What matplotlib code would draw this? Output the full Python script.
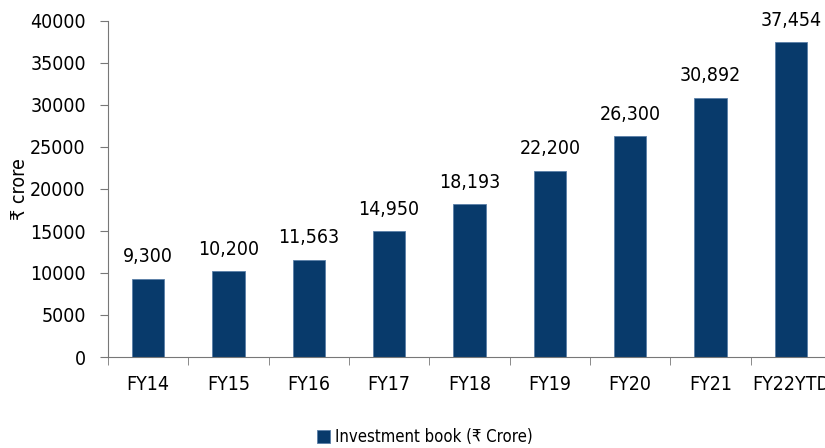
import matplotlib.pyplot as plt
import numpy as np
from matplotlib import font_manager

# narrow face if there is one, otherwise the default
names = {f.name for f in font_manager.fontManager.ttflist}
narrow = [n for n in ['Liberation Sans Narrow', 'DejaVu Sans Condensed'] if n in names]
plt.rcParams['font.family'] = narrow + ['DejaVu Sans']
plt.rcParams['font.stretch'] = 'condensed'

# Data
years = ['FY14', 'FY15', 'FY16', 'FY17', 'FY18', 'FY19', 'FY20', 'FY21', 'FY22YTD']
book = [9300, 10200, 11563, 14950, 18193, 22200, 26300, 30892, 37454]
bar_color = '#083a6b'

fig = plt.figure(figsize=(8.25, 4.48), dpi=100)
# axes runs slightly past the right edge, as in the original
ax = fig.add_axes([108 / 825, 1 - 357 / 448, 723 / 825, 336 / 448])

x = np.arange(len(years))
bars = ax.bar(x, book, width=0.4, color=bar_color, edgecolor='#5a7fa8',
              linewidth=0.6, label='Investment book (₹ Crore)')

for xi, v in zip(x, book):
    ax.annotate(f'{v:,}', (xi, v), xytext=(0, 9), textcoords='offset points',
                ha='center', va='bottom', fontsize=14)

ax.set_xlim(-0.5, len(years) - 0.5)
ax.set_ylim(0, 40000)
ax.set_yticks(np.arange(0, 40001, 5000))
ax.tick_params(axis='y', labelsize=14, length=6, color='#777777', pad=10)

ax.set_xticks(x)
ax.set_xticklabels(years)
ax.set_xticks(np.arange(-0.5, len(years)), minor=True)
ax.tick_params(axis='x', which='major', length=0, labelsize=14, pad=13)
ax.tick_params(axis='x', which='minor', length=6, color='#777777')

ax.set_ylabel('₹ crore', fontsize=14, va='center')
ax.yaxis.set_label_coords((19 - 108) / 723, 0.5)

for side in ['top', 'right']:
    ax.spines[side].set_visible(False)
for side in ['left', 'bottom']:
    ax.spines[side].set_color('#777777')

fig.legend(handles=[bars], loc='center', bbox_to_anchor=(425 / 825, 1 - 437 / 448),
           frameon=False, fontsize=12, handlelength=0.8, handleheight=0.8,
           handletextpad=0.3)

fig.savefig('out.png', dpi=100)
